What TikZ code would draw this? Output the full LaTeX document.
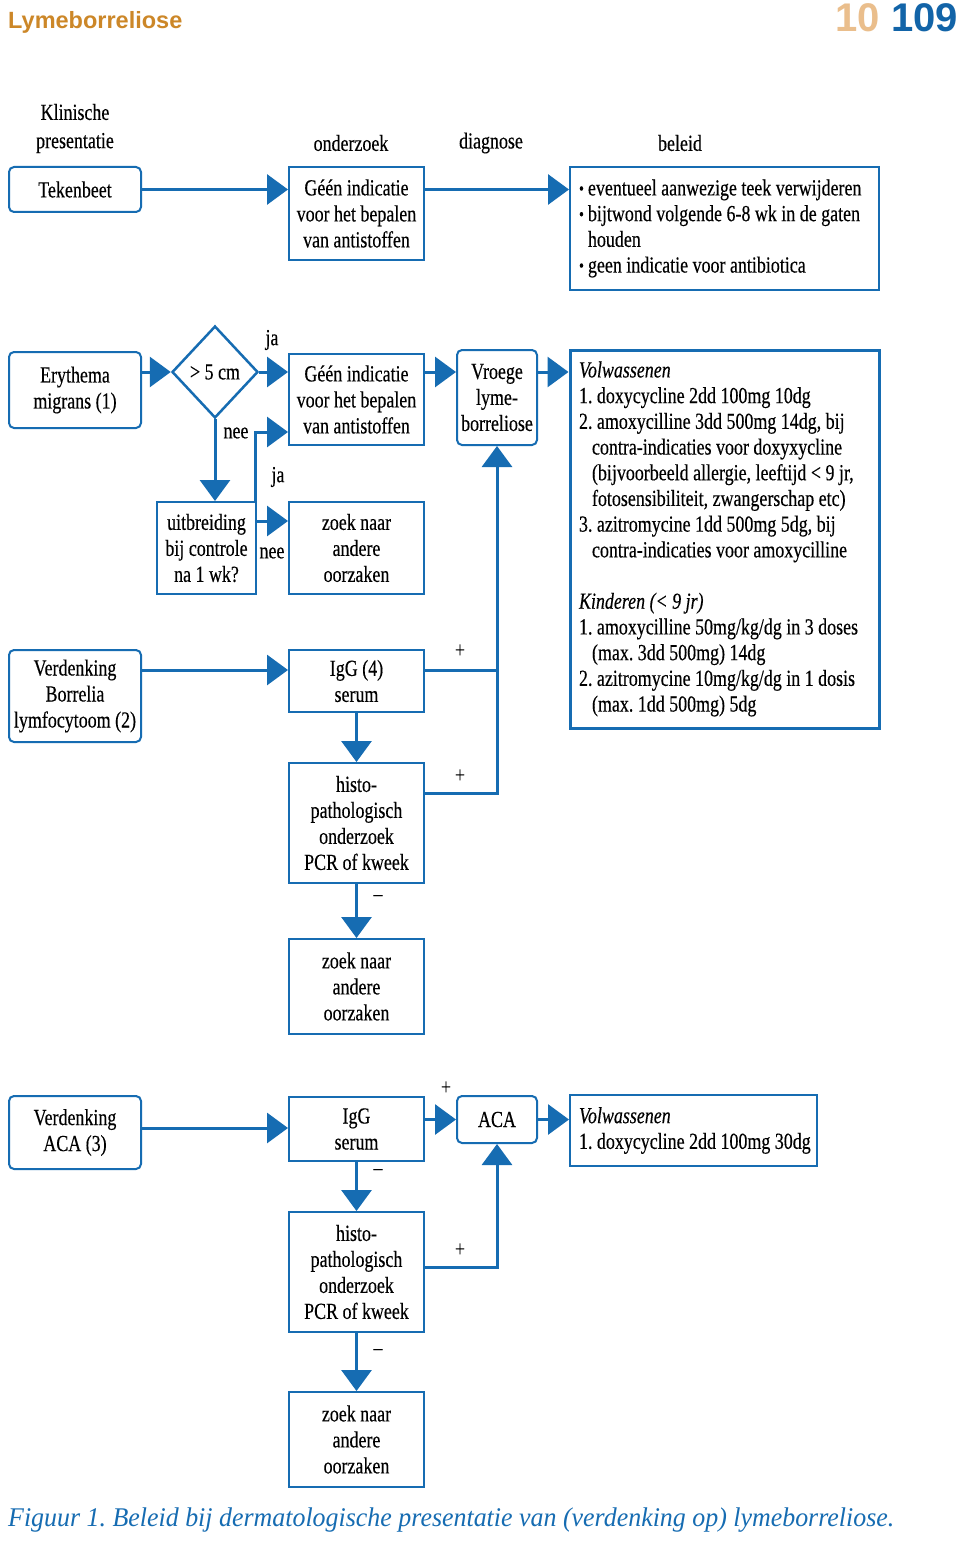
\documentclass[tikz,border=0pt]{standalone}
\usepackage{fontspec}
\setmainfont{Liberation Serif}[FakeStretch=0.78,FakeBold=0.3]
\newfontfamily\hdfont{Liberation Sans}
\newfontfamily\capfont{Liberation Serif}[FakeStretch=0.96]
\usetikzlibrary{arrows.meta,shapes.geometric,calc}
\definecolor{lb}{RGB}{22,108,178}
\definecolor{hdor}{RGB}{204,135,40}
\definecolor{hdlt}{RGB}{234,190,140}
\definecolor{hdbl}{RGB}{18,100,168}
\frenchspacing
\newcommand\dtext{\fontsize{23}{26}\selectfont}
\newcommand\btext{\fontsize{23}{25.7}\selectfont}
\newcommand\bl[1]{\mbox{\spaceskip=0pt\xspaceskip=0pt #1}}
\newcommand\bul{\makebox[9pt][l]{\raisebox{1pt}{\fontsize{18}{18}\selectfont •}}}
\begin{document}
\begin{tikzpicture}[x=1pt,y=-1pt,
 box/.style={draw=lb, line width=2pt, fill=white, inner sep=0pt, align=center, font=\dtext},
 rbox/.style={box, rounded corners=5pt},
 conn/.style={draw=lb, line width=3pt},
 arr/.style={conn, -{Triangle[length=21pt,width=30pt]}},
 lbl/.style={font=\dtext, inner sep=0pt},
 bel/.style={draw=lb, line width=2pt, inner xsep=9pt, inner ysep=0pt, align=left, font=\btext},
]
\useasboundingbox (0,0) rectangle (960,1546);
\fill[white] (0,0) rectangle (960,1546);

% header
\node[anchor=west, inner sep=0pt, font={\hdfont\bfseries\fontsize{23.5}{23.5}\selectfont}, text=hdor] (hdl) at (8,22) {Lymeborreliose};
\node[anchor=east, inner sep=0pt, font={\hdfont\bfseries\fontsize{40}{40}\selectfont}] (hdr) at (958,18) {\textcolor{hdlt}{10} \textcolor{hdbl}{109}};

% column headings
\node[lbl] (h1a) at (75,112) {Klinische};
\node[lbl] (h1b) at (75,143) {presentatie};
\node[lbl] (h2) at (351,143) {onderzoek};
\node[lbl] (h3) at (491,143) {diagnose};
\node[lbl] (h4) at (680,143) {beleid};

% row 1
\node[rbox, minimum width=132pt, minimum height=45pt] (tek) at (75,189.5) {Tekenbeet};
\node[box, minimum width=135pt, minimum height=93pt] (gi1) at (356.5,213.5) {Géén indicatie\\voor het bepalen\\van antistoffen};
\node[bel, text width=291pt, minimum height=123pt] (bel1) at (724.5,228.5) {%
\bl{\bul eventueel aanwezige teek verwijderen}\\
\bl{\bul bijtwond volgende 6-8 wk in de gaten}\\
\bl{\hspace*{9pt}houden}\\
\bl{\bul geen indicatie voor antibiotica}};

% row 2
\node[rbox, minimum width=132pt, minimum height=76pt] (em) at (75,390) {Erythema\\migrans (1)};
\node[draw=lb, line width=2.5pt, fill=white, shape=diamond, aspect=0.93, minimum width=86pt, minimum height=92pt, inner sep=0pt, font=\dtext] (dia) at (215,372) {> 5 cm};
\node[box, minimum width=135pt, minimum height=91pt] (gi2) at (356.5,399.5) {Géén indicatie\\voor het bepalen\\van antistoffen};
\node[box, minimum width=99pt, minimum height=92pt] (uitb) at (206.5,548) {uitbreiding\\bij controle\\na 1 wk?};
\node[box, minimum width=135pt, minimum height=92pt] (zoek1) at (356.5,548) {zoek naar\\andere\\oorzaken};
\node[rbox, minimum width=80pt, minimum height=95pt] (vroege) at (497,397.5) {Vroege\\lyme-\\borreliose};
\node[bel, line width=3pt, text width=291pt, minimum height=378pt] (bel2) at (724.5,539) {%
\bl{\textit{Volwassenen}}\\
\bl{1. doxycycline 2dd 100mg 10dg}\\
\bl{2. amoxycilline 3dd 500mg 14dg, bij}\\
\bl{\hspace*{13pt}contra-indicaties voor doxyxycline}\\
\bl{\hspace*{13pt}(bijvoorbeeld allergie, leeftijd < 9 jr,}\\
\bl{\hspace*{13pt}fotosensibiliteit, zwangerschap etc)}\\
\bl{3. azitromycine 1dd 500mg 5dg, bij}\\
\bl{\hspace*{13pt}contra-indicaties voor amoxycilline}\\
\mbox{}\\
\bl{\textit{Kinderen (< 9 jr)}}\\
\bl{1. amoxycilline 50mg/kg/dg in 3 doses}\\
\bl{\hspace*{13pt}(max. 3dd 500mg) 14dg}\\
\bl{2. azitromycine 10mg/kg/dg in 1 dosis}\\
\bl{\hspace*{13pt}(max. 1dd 500mg) 5dg}};

% row 3
\node[rbox, minimum width=132pt, minimum height=92pt] (verd) at (75,696) {Verdenking\\Borrelia\\lymfocytoom (2)};
\node[box, minimum width=135pt, minimum height=62pt] (igg1) at (356.5,681) {IgG (4)\\serum};
\node[box, minimum width=135pt, minimum height=120pt] (histo1) at (356.5,823) {histo-\\pathologisch\\onderzoek\\PCR of kweek};
\node[box, minimum width=135pt, minimum height=95pt] (zoek2) at (356.5,986.5) {zoek naar\\andere\\oorzaken};

% row 4
\node[rbox, minimum width=132pt, minimum height=73pt] (vaca) at (75,1132.5) {Verdenking\\ACA (3)};
\node[box, minimum width=135pt, minimum height=64pt] (igg2) at (356.5,1129) {IgG\\serum};
\node[rbox, minimum width=80pt, minimum height=47pt] (aca) at (497,1119.5) {ACA};
\node[bel, text width=229pt, minimum height=71pt] (bel3) at (693.5,1130.5) {%
\bl{\textit{Volwassenen}}\\
\bl{1. doxycycline 2dd 100mg 30dg}};
\node[box, minimum width=135pt, minimum height=120pt] (histo2) at (356.5,1272) {histo-\\pathologisch\\onderzoek\\PCR of kweek};
\node[box, minimum width=135pt, minimum height=95pt] (zoek3) at (356.5,1439.5) {zoek naar\\andere\\oorzaken};

% connectors
\draw[arr] (tek.east) -- (gi1.west |- tek.east);
\draw[arr] (gi1.east |- tek.east) -- (bel1.west |- tek.east);
\draw[arr] (em.east |- dia.west) -- (dia.west);
\draw[arr] (dia.east) -- (gi2.west |- dia.east);
\draw[arr] (dia.south) -- (dia.south |- uitb.north);
\draw[arr] ([xshift=-1.5pt]uitb.north east) |- (gi2.west |- 0,432);
\draw[arr] (uitb.east |- 0,521) -- (zoek1.west |- 0,521);
\draw[arr] (gi2.east |- dia.east) -- (vroege.west |- dia.east);
\draw[arr] (vroege.east |- dia.east) -- (bel2.west |- dia.east);
\draw[arr] (verd.east |- 0,670) -- (igg1.west |- 0,670);
\draw[conn] (igg1.east |- 0,670) -- (vroege.south |- 0,670);
\draw[arr] (histo1.east |- 0,793) -| (vroege.south);
\draw[arr] (igg1.south) -- (histo1.north);
\draw[arr] (histo1.south) -- (zoek2.north);
\draw[arr] (vaca.east |- 0,1128) -- (igg2.west |- 0,1128);
\draw[arr] (igg2.east |- aca.west) -- (aca.west);
\draw[arr] (aca.east) -- (bel3.west |- aca.east);
\draw[arr] (igg2.south) -- (histo2.north);
\draw[arr] (histo2.east |- 0,1267) -| (aca.south);
\draw[arr] (histo2.south) -- (zoek3.north);

% labels
\node[lbl] (l1) at (272,340) {ja};
\node[lbl] (l2) at (236,433) {nee};
\node[lbl] (l3) at (278,477) {ja};
\node[lbl] (l4) at (272,553) {nee};
\node[lbl] (l5) at (460,651) {+};
\node[lbl] (l6) at (460,776) {+};
\node[lbl] (l7) at (378,898) {–};
\node[lbl] (l8) at (446,1088) {+};
\node[lbl] (l9) at (378,1172) {–};
\node[lbl] (l10) at (460,1250) {+};
\node[lbl] (l11) at (378,1352) {–};

% caption
\node[anchor=west, inner sep=0pt, text=lb, font={\capfont\itshape\fontsize{27}{27}\selectfont}] (cap) at (8,1520) {Figuur 1. Beleid bij dermatologische presentatie van (verdenking op) lymeborreliose.};
\end{tikzpicture}
\end{document}
